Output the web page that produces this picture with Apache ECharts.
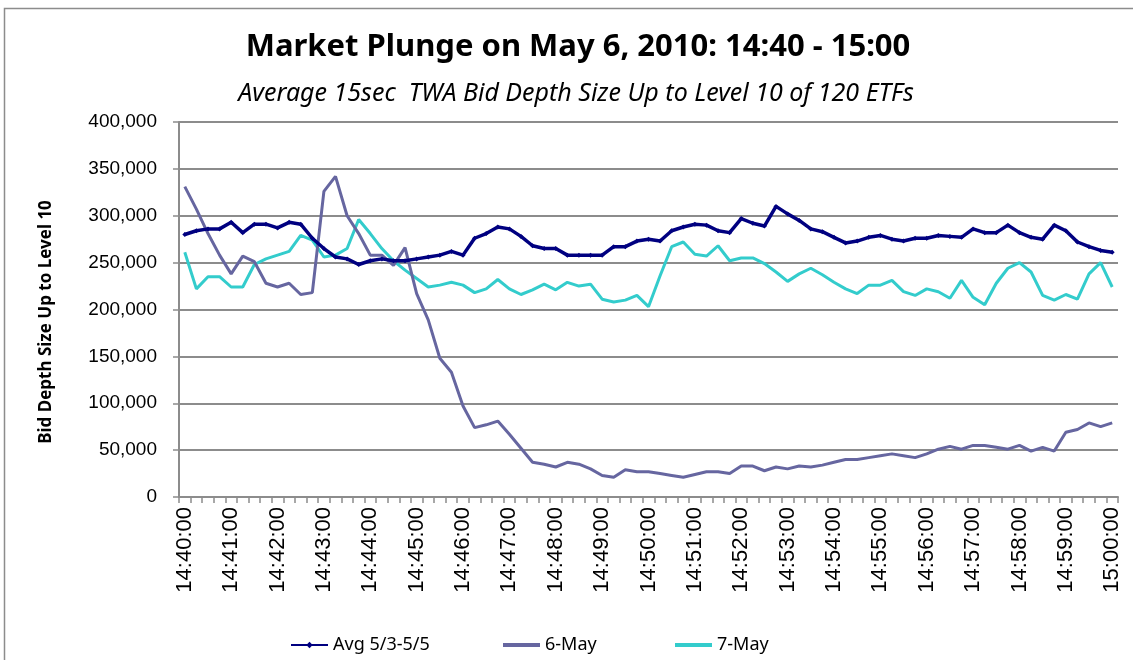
<!DOCTYPE html>
<html>
<head>
<meta charset="utf-8">
<script src="https://cdn.jsdelivr.net/npm/echarts@6/dist/echarts.min.js"></script>
<style>
  html, body { margin: 0; padding: 0; background: #fff; }
  #chart { width: 1133px; height: 660px; }
</style>
</head>
<body>
<div id="chart"></div>
<script>
// 15 秒一个点, 14:40:00 - 15:00:00
const timeLabels = []
for (let m = 40; m <= 60; m++) {
  for (let s = 0; s < 60; s += 15) {
    if (m === 60 && s > 0) break
    const hh = m === 60 ? '15' : '14'
    const mm = m === 60 ? '00' : String(m)
    timeLabels.push(hh + ':' + mm + ':' + (s === 0 ? '00' : String(s)))
  }
}

const avgSeries = [
  280000, 284000, 286000, 286000, 293000, 282000, 291000, 291000, 287000, 293000,
  291000, 276000, 265000, 256000, 254000, 248000, 252000, 254000, 252000, 252000,
  254000, 256000, 258000, 262000, 258000, 276000, 281000, 288000, 286000, 278000,
  268000, 265000, 265000, 258000, 258000, 258000, 258000, 267000, 267000, 273000,
  275000, 273000, 284000, 288000, 291000, 290000, 284000, 282000, 297000, 292000,
  289000, 310000, 302000, 295000, 286000, 283000, 277000, 271000, 273000, 277000,
  279000, 275000, 273000, 276000, 276000, 279000, 278000, 277000, 286000, 282000,
  282000, 290000, 282000, 277000, 275000, 290000, 284000, 272000, 267000, 263000,
  261000
]

const may6Series = [
  331000, 307000, 281000, 258000, 238000, 257000, 251000, 228000, 224000, 228000,
  216000, 218000, 326000, 342000, 300000, 281000, 258000, 258000, 247000, 266000,
  217000, 189000, 148000, 133000, 97000, 74000, 77000, 81000, 67000, 52000,
  37000, 35000, 32000, 37000, 35000, 30000, 23000, 21000, 29000, 27000,
  27000, 25000, 23000, 21000, 24000, 27000, 27000, 25000, 33000, 33000,
  28000, 32000, 30000, 33000, 32000, 34000, 37000, 40000, 40000, 42000,
  44000, 46000, 44000, 42000, 46000, 51000, 54000, 51000, 55000, 55000,
  53000, 51000, 55000, 49000, 53000, 49000, 69000, 72000, 79000, 75000,
  79000
]

const may7Series = [
  261000, 222000, 235000, 235000, 224000, 224000, 248000, 254000, 258000, 262000,
  279000, 274000, 256000, 258000, 265000, 296000, 281000, 265000, 252000, 242000,
  233000, 224000, 226000, 229000, 226000, 218000, 222000, 232000, 222000, 216000,
  221000, 227000, 221000, 229000, 225000, 227000, 211000, 208000, 210000, 215000,
  203000, 236000, 267000, 272000, 259000, 257000, 268000, 252000, 255000, 255000,
  249000, 240000, 230000, 238000, 244000, 237000, 229000, 222000, 217000, 226000,
  226000, 231000, 219000, 215000, 222000, 219000, 212000, 231000, 213000, 205000,
  228000, 244000, 250000, 240000, 215000, 210000, 216000, 211000, 238000, 250000,
  224000
]

const seriesNames = ['Avg 5/3-5/5', '6-May', '7-May']
const seriesColors = ['#000080', '#6666a0', '#33cccc']

const chartInstance = echarts.init(document.getElementById('chart'), null, { renderer: 'canvas' })

// 图例: 6-May / 7-May 只画线, 不带圆点
const legendItem = (name, left, plain) => ({
  data: [plain ? { name: name, icon: 'rect' } : name],
  left: left,
  top: 631,
  itemWidth: 37,
  itemHeight: plain ? 4 : 8,
  itemGap: 6,
  textStyle: { fontFamily: 'Noto Sans', fontSize: 18, color: '#000' },
})

const options = {
  animation: false,
  backgroundColor: '#fff',
  graphic: [
    {
      type: 'rect',
      shape: { x: 4.5, y: 8.5, width: 1200, height: 700 },
      style: { fill: 'none', stroke: '#8c8c8c', lineWidth: 1.5 },
      silent: true,
    },
    {
      // 纵轴标题, 位置比绘图区中线略低
      type: 'text',
      x: 46,
      y: 322,
      rotation: Math.PI / 2,
      style: {
        text: 'Bid Depth Size Up to Level 10',
        fontFamily: 'Noto Sans',
        fontWeight: 'bold',
        fontSize: 17,
        fill: '#000',
        align: 'center',
        verticalAlign: 'middle',
      },
      silent: true,
    },
  ],
  title: [
    {
      text: 'Market Plunge on May 6, 2010: 14:40 - 15:00',
      left: 573,
      textAlign: 'center',
      top: 27,
      textStyle: { fontFamily: 'Noto Sans', fontWeight: 'bold', fontSize: 31, color: '#000' },
    },
    {
      text: 'Average 15sec  TWA Bid Depth Size Up to Level 10 of 120 ETFs',
      left: 571,
      textAlign: 'center',
      top: 76,
      textStyle: { fontFamily: 'Noto Sans', fontStyle: 'italic', fontWeight: 'normal', fontSize: 25, color: '#000' },
    },
  ],
  legend: [
    legendItem(seriesNames[0], 285, false),
    legendItem(seriesNames[1], 498, true),
    legendItem(seriesNames[2], 670, true),
  ],
  grid: {
    left: 179,
    right: 15,
    top: 122,
    bottom: 163,
    containLabel: false,
  },
  xAxis: {
    type: 'category',
    data: timeLabels,
    boundaryGap: true,
    axisLine: { lineStyle: { color: '#8c8c8c', width: 2 } },
    axisTick: { show: true, interval: 0, length: 6, lineStyle: { color: '#8c8c8c', width: 1.5 } },
    axisLabel: {
      interval: 3,
      rotate: 90,
      margin: 10,
      fontFamily: 'Liberation Sans',
      fontSize: 22,
      color: '#000',
    },
    splitLine: { show: false },
  },
  yAxis: {
    type: 'value',
    min: 0,
    max: 400000,
    interval: 50000,
    axisLine: { show: true, lineStyle: { color: '#8c8c8c', width: 2 } },
    axisTick: { show: true, length: 6, lineStyle: { color: '#8c8c8c', width: 1.5 } },
    axisLabel: {
      margin: 22,
      fontFamily: 'Liberation Sans',
      fontSize: 19,
      color: '#000',
      formatter: (v) => v.toLocaleString('en-US'),
    },
    splitLine: { show: true, lineStyle: { color: '#8c8c8c', width: 2 } },
  },
  series: [
    {
      name: seriesNames[0],
      type: 'line',
      data: avgSeries,
      color: seriesColors[0],
      symbol: 'diamond',
      symbolSize: 5,
      showAllSymbol: true,
      lineStyle: { width: 3.5, color: seriesColors[0] },
      itemStyle: { color: seriesColors[0] },
      z: 4,
    },
    {
      name: seriesNames[1],
      type: 'line',
      data: may6Series,
      color: seriesColors[1],
      symbol: 'none',
      lineStyle: { width: 3, color: seriesColors[1] },
      z: 3,
    },
    {
      name: seriesNames[2],
      type: 'line',
      data: may7Series,
      color: seriesColors[2],
      symbol: 'none',
      lineStyle: { width: 3, color: seriesColors[2] },
      z: 2,
    },
  ],
}

chartInstance.setOption(options)
</script>
</body>
</html>
